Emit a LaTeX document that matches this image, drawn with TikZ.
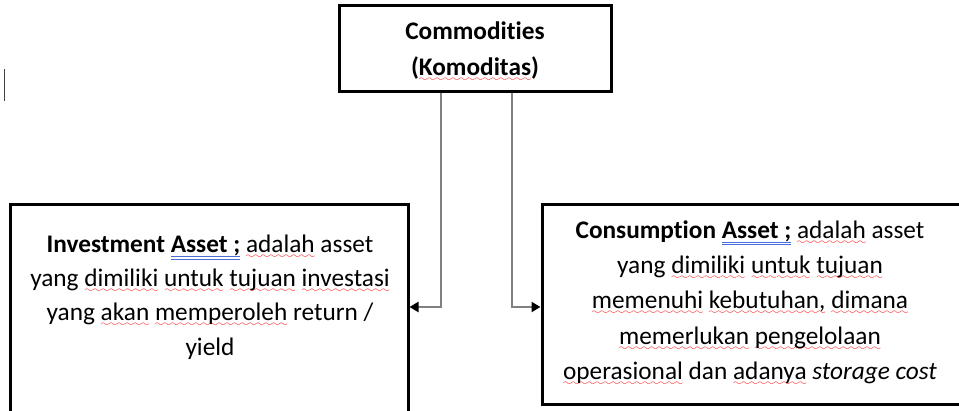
\documentclass[tikz,border=0pt]{standalone}
\usepackage{fontspec}
\setmainfont{Carlito}[Ligatures=NoCommon]
\usetikzlibrary{arrows.meta}

% small wave glyph used for the red spelling marks
\font\wavefont=lasy6 at 9pt
% red wavy underline
\newcommand\sq[1]{\leavevmode\setbox0\hbox{#1}%
  \rlap{\lower6pt\hbox to\wd0{\color{red}\xleaders\hbox{\wavefont\char58}\hfil}}\box0\relax}
% blue double underline
\newcommand\gq[1]{\leavevmode\setbox0\hbox{#1}%
  \rlap{\color[RGB]{70,110,220}\rlap{\vrule width\wd0 height -3.6pt depth 4.6pt}%
  \vrule width\wd0 height -6.2pt depth 7.2pt}\box0\relax}

\tikzset{
  box/.style={draw=black, line width=3pt, fill=white, inner sep=0pt},
  txt/.style={align=center, inner sep=0pt, font=\fontsize{25.3}{34.3}\selectfont},
  conn/.style={draw=gray, line width=2.2pt,
    -{Triangle[length=9pt,width=10pt,color=black,fill=black]}},
}

\begin{document}
\begin{tikzpicture}[x=1pt,y=-1pt]
\useasboundingbox (0,0) rectangle (959,410);
\clip (0,0) rectangle (959,410);

% text cursor at the left margin
\draw[line width=1.6pt, black!75] (4.5,69) -- (4.5,101);

% header box
\node[box, minimum width=272pt, minimum height=86pt] (top) at (475,48) {};
\node[txt, font=\fontsize{25.3}{36}\selectfont\bfseries] (toptext) at (475,52)
  {Commodities\\(\sq{Komoditas})};

% investment asset box
\node[box, minimum width=398pt, minimum height=240pt] (inv) at (209,324) {};
\node[txt] (invtext) at (210,297)
  {\textbf{Investment \gq{Asset ;}} \sq{adalah} asset\\
   yang \sq{dimiliki} \sq{untuk} \sq{tujuan} \sq{investasi}\\
   yang \sq{akan} \sq{memperoleh} return /\\
   yield};

% consumption asset box
\node[box, minimum width=428pt, minimum height=200pt] (cons) at (756,304) {};
\node[txt, font=\fontsize{25.3}{35.4}\selectfont] (constext) at (750,303)
  {\textbf{Consumption \gq{Asset ;}} \sq{adalah} asset\\
   yang \sq{dimiliki} \sq{untuk} \sq{tujuan}\\
   \sq{memenuhi} \sq{kebutuhan,} \sq{dimana}\\
   \sq{memerlukan} \sq{pengelolaan}\\
   \sq{operasional} dan \sq{adanya} \textit{storage cost}};

% connectors from the header box
\draw[conn] ([xshift=-34pt]top.south) |- ([yshift=17pt]inv.east);
\draw[conn] ([xshift=37pt]top.south) |- ([yshift=-3pt]cons.west);
\end{tikzpicture}
\end{document}
